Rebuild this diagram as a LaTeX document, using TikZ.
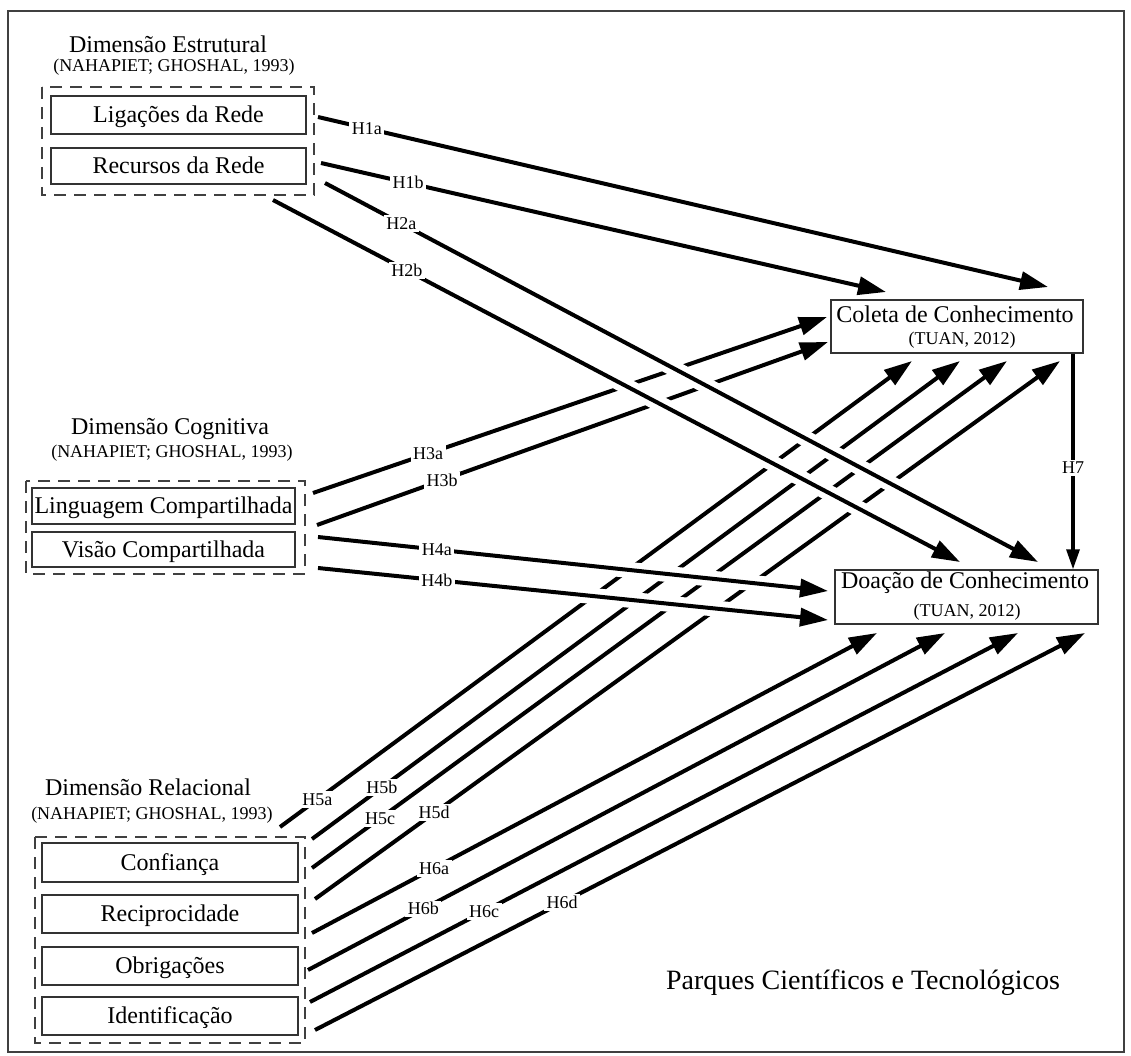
\documentclass[tikz,border=0pt]{standalone}
\usepackage{fontspec}
\setmainfont{Liberation Serif}
\usetikzlibrary{arrows.meta,calc}

\begin{document}
\begin{tikzpicture}[x=1pt,y=-1pt,
  bigtxt/.style={inner sep=0pt, font=\fontsize{24}{26}\selectfont, text height=15.8pt, text depth=0pt},
  citetxt/.style={inner sep=0pt, font=\fontsize{18}{20}\selectfont, text height=11.9pt, text depth=0pt},
  itembox/.style={draw=black!80, line width=1.4pt, inner sep=0pt,
    font=\fontsize{24}{26}\selectfont, text height=15.8pt, text depth=0pt},
  groupbox/.style={draw=black!75, line width=1.4pt, dash pattern=on 12pt off 8pt},
  link/.style={line width=4pt, -{Triangle[length=28pt,width=18pt]}},
  hyp/.style={fill=white, inner sep=2.5pt, font=\fontsize{18}{20}\selectfont,
    text height=11.9pt, text depth=0pt},
  hop/.style={white, line width=16pt},
]
\useasboundingbox (0,0) rectangle (1131,1056);
\fill[white] (0,0) rectangle (1131,1056);
\draw[black!75, line width=1.5pt] (8,11) rectangle (1124,1052);

% ---------- structural dimension ----------
\node[bigtxt] (estr) at (168,45) {Dimensão Estrutural};
\node[citetxt] (estrc) at (174,66) {(NAHAPIET; GHOSHAL, 1993)};
\draw[groupbox] (42,87) rectangle (314,195);
\node[itembox, minimum width=255pt, minimum height=38pt] (lig) at (178.5,115) {Ligações da Rede};
\node[itembox, minimum width=255pt, minimum height=36pt] (rec) at (178.5,166) {Recursos da Rede};

% ---------- cognitive dimension ----------
\node[bigtxt] (cogn) at (170,427) {Dimensão Cognitiva};
\node[citetxt] (cognc) at (172,452) {(NAHAPIET; GHOSHAL, 1993)};
\draw[groupbox] (26,481) rectangle (305,574);
\node[itembox, minimum width=263pt, minimum height=36pt] (lin) at (163.5,506) {Linguagem Compartilhada};
\node[itembox, minimum width=263pt, minimum height=35pt] (vis) at (163.5,549.5) {Visão Compartilhada};

% ---------- relational dimension ----------
\node[bigtxt] (rela) at (148,788) {Dimensão Relacional};
\node[citetxt] (relac) at (152,814) {(NAHAPIET; GHOSHAL, 1993)};
\draw[groupbox] (35,837) rectangle (305,1043);
\node[itembox, minimum width=256pt, minimum height=39pt] (conf) at (170,862.5) {Confiança};
\node[itembox, minimum width=256pt, minimum height=38pt] (reci) at (170,914) {Reciprocidade};
\node[itembox, minimum width=256pt, minimum height=38pt] (obri) at (170,966) {Obrigações};
\node[itembox, minimum width=256pt, minimum height=38pt] (iden) at (170,1016) {Identificação};

% ---------- outcomes ----------
\node[draw=black!80, line width=1.4pt, minimum width=252pt, minimum height=53pt, inner sep=0pt] (coleta) at (957,326.5) {};
\node[bigtxt] (coletat) at (955,315) {Coleta de Conhecimento};
\node[citetxt] (coletac) at (962,339) {(TUAN, 2012)};
\node[draw=black!80, line width=1.4pt, minimum width=263pt, minimum height=54pt, inner sep=0pt] (doacao) at (966.5,597) {};
\node[bigtxt] (doacaot) at (965,581) {Doação de Conhecimento};
\node[citetxt] (doacaoc) at (967,611) {(TUAN, 2012)};

\node[inner sep=0pt, font=\fontsize{28}{30}\selectfont, text height=18.5pt, text depth=0pt] (parques) at (863,980) {Parques Científicos e Tecnológicos};

% ---------- connector end points ----------
\coordinate (a1a) at (318,117);  \coordinate (b1a) at (1048,287);
\coordinate (a1b) at (321,163);  \coordinate (b1b) at (886,292);
\coordinate (a2a) at (325,183);  \coordinate (b2a) at (1038,562);
\coordinate (a2b) at (273,200);  \coordinate (b2b) at (960,562);
\coordinate (a3a) at (313,493);  \coordinate (b3a) at (827,317);
\coordinate (a3b) at (317,525);  \coordinate (b3b) at (828,342);
\coordinate (a4a) at (318,537);  \coordinate (b4a) at (828,591);
\coordinate (a4b) at (318,568);  \coordinate (b4b) at (828,620);
\coordinate (a5a) at (280,827);  \coordinate (b5a) at (912,361);
\coordinate (a5b) at (312,839);  \coordinate (b5b) at (960,361);
\coordinate (a5c) at (312,868);  \coordinate (b5c) at (1007,361);
\coordinate (a5d) at (315,899);  \coordinate (b5d) at (1060,361);
\coordinate (a6a) at (312,933);  \coordinate (b6a) at (877,633);
\coordinate (a6b) at (308,970);  \coordinate (b6b) at (945,633);
\coordinate (a6c) at (310,1002); \coordinate (b6c) at (1018,633);
\coordinate (a6d) at (315,1030); \coordinate (b6d) at (1085,633);
\coordinate (a7) at (coleta.south -| 1073,0); \coordinate (b7) at (doacao.north -| 1073,0);

% lines that pass underneath others
\draw[link] (a3a) -- node[hyp,pos=.224]{H3a} (b3a);
\draw[link] (a3b) -- node[hyp,pos=.245]{H3b} (b3b);
\draw[link] (a5a) -- node[hyp,pos=.059]{H5a} (b5a);
\draw[link] (a5b) -- node[hyp,pos=.108]{H5b} (b5b);
\draw[link] (a5c) -- node[hyp,pos=.098]{H5c} (b5c);
\draw[link] (a5d) -- node[hyp,pos=.160]{H5d} (b5d);

% gaps where the upper lines cross
\draw[hop, shorten <=250pt, shorten >=40pt] (a2a) -- (b2a);
\draw[hop, shorten <=250pt, shorten >=40pt] (a2b) -- (b2b);
\draw[hop, shorten <=200pt, shorten >=60pt] (a4a) -- (b4a);
\draw[hop, shorten <=200pt, shorten >=60pt] (a4b) -- (b4b);

% lines on top
\draw[link] (a2a) -- node[hyp,pos=.107]{H2a} (b2a);
\draw[link] (a2b) -- node[hyp,pos=.195]{H2b} (b2b);
\draw[link] (a4a) -- node[hyp,pos=.233]{H4a} (b4a);
\draw[link] (a4b) -- node[hyp,pos=.233]{H4b} (b4b);

\draw[link] (a1a) -- node[hyp,pos=.067]{H1a} (b1a);
\draw[link] (a1b) -- node[hyp,pos=.154]{H1b} (b1b);
\draw[link] (a6a) -- node[hyp,pos=.216]{H6a} (b6a);
\draw[link] (a6b) -- node[hyp,pos=.181]{H6b} (b6b);
\draw[link] (a6c) -- node[hyp,pos=.246]{H6c} (b6c);
\draw[link] (a6d) -- node[hyp,pos=.321]{H6d} (b6d);

\draw[line width=3.2pt, -{Triangle[length=20pt,width=13pt]}] (a7) -- node[hyp,pos=.53]{H7} (b7);
\end{tikzpicture}
\end{document}
